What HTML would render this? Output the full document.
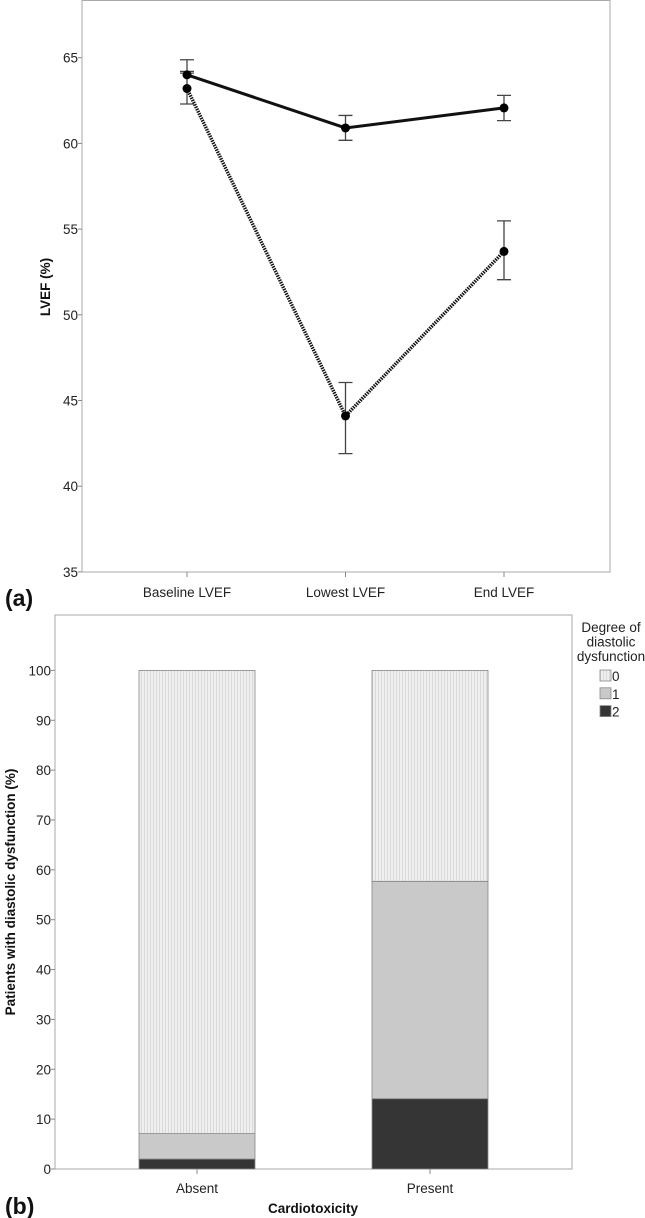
<!DOCTYPE html>
<html><head><meta charset="utf-8"><style>
body{margin:0;background:#fff;}
svg{display:block;font-family:"Liberation Sans",Arial,sans-serif;}
</style></head><body>
<svg id="fig" width="645" height="1218" viewBox="0 0 645 1218">
<defs>
<pattern id="vlines" width="3" height="10" patternUnits="userSpaceOnUse">
<rect width="3" height="10" fill="#efefef"/><rect width="1" height="10" fill="#dadada"/>
</pattern>
</defs>
<g id="chartA"></g>
<g id="chartB"></g>
</svg>
<script>
const lvefCategories = ["Baseline LVEF","Lowest LVEF","End LVEF"];
const solidMeans = [64.0, 60.9, 62.07];
const solidLow = [64.2, 60.18, 61.33];
const solidHigh = [64.88, 61.63, 62.8];
const dottedMeans = [63.2, 44.1, 53.7];
const dottedLow = [62.3, 41.9, 52.05];
const dottedHigh = [64.1, 46.05, 55.48];
const lvefTicks = [35,40,45,50,55,60,65];

const barCategories = ["Absent","Present"];
const grade2 = [2.0, 14.1];
const grade1 = [5.1, 43.6];
const grade0 = [92.9, 42.3];
const barTicks = [0,10,20,30,40,50,60,70,80,90,100];
const legendLabels = ["0","1","2"];

const NS="http://www.w3.org/2000/svg";
function mk(parent,tag,attrs,text){const e=document.createElementNS(NS,tag);for(const k in attrs)e.setAttribute(k,attrs[k]);if(text!==undefined)e.textContent=text;parent.appendChild(e);return e;}
const FS=13.5;

// Chart A
const A=document.getElementById('chartA');
const aL=82,aR=610,aT=0,aB=572;
const yA=v=>57.7+(65-v)*17.14;
const xA=i=>[187,345.5,504][i];
let f=mk(A,'rect',{x:aL,y:aT+0.5,width:aR-aL,height:aB-aT-0.5,fill:'none',stroke:'#aaa','stroke-width':1});


lvefTicks.forEach(t=>{
 const y=yA(t);
 let l=mk(A,'line',{x1:aL-4,x2:aL,y1:y,y2:y,stroke:'#888'});
 
 
 let tx=mk(A,'text',{x:aL-4,y:y+5,'text-anchor':'end','font-size':FS,fill:'#222'},t);
 
 
});
lvefCategories.forEach((c,i)=>{
 let l=mk(A,'line',{x1:xA(i),x2:xA(i),y1:aB,y2:aB+5,stroke:'#888'});
 
 
 let tx=mk(A,'text',{x:xA(i),y:aB+25,'text-anchor':'middle','font-size':FS,fill:'#222'},c);
 
 
});
let yt=mk(A,'text',{x:0,y:0,transform:'translate(50,287) rotate(-90)','text-anchor':'middle','font-size':FS,'font-weight':'bold',fill:'#111'},'LVEF (%)');


let la=mk(A,'text',{x:5,y:606,'font-size':23,'font-weight':'bold',fill:'#111'},'(a)');


function series(means,lo,hi,dash,name){
 const pts=means.map((m,i)=>xA(i)+','+yA(m)).join(' ');
 let pl=mk(A,'polyline',{points:pts,fill:'none',stroke:'#111','stroke-width':dash?3.5:3,'stroke-dasharray':dash?'1.5 1':'none'});
 
 
 means.forEach((m,i)=>{
  const x=xA(i);
  let e=mk(A,'path',{d:`M${x},${yA(lo[i])}V${yA(hi[i])}M${x-7},${yA(lo[i])}H${x+7}M${x-7},${yA(hi[i])}H${x+7}`,stroke:'#444','stroke-width':1.3,fill:'none'});
  
  
  let c=mk(A,'circle',{cx:x,cy:yA(m),r:4.5,fill:'#000'});
  
  
 });
}
series(dottedMeans,dottedLow,dottedHigh,true,'cardiotoxicity-present');
series(solidMeans,solidLow,solidHigh,false,'cardiotoxicity-absent');

// Chart B
const B=document.getElementById('chartB');
const bL=55,bR=572,bT=615,bB=1169;
const yB=v=>bB-(v)*4.986;
const xB=i=>[197,430][i];
const bw=116;
let fb=mk(B,'rect',{x:bL,y:bT,width:bR-bL,height:bB-bT,fill:'none',stroke:'#aaa','stroke-width':1});


barTicks.forEach(t=>{
 const y=yB(t);
 let l=mk(B,'line',{x1:bL-4,x2:bL,y1:y,y2:y,stroke:'#888'});
 
 
 let tx=mk(B,'text',{x:bL-4,y:y+5,'text-anchor':'end','font-size':FS,fill:'#222'},t);
 
 
});
const fills=['url(#vlines)','#c9c9c9','#353535'];
barCategories.forEach((c,i)=>{
 const x=xB(i);
 const segs=[grade2[i],grade1[i],grade0[i]];
 const fl=['#353535','#c9c9c9','url(#vlines)'];
 const nm=['grade-2','grade-1','grade-0'];
 let base=0;
 segs.forEach((v,k)=>{
  let r=mk(B,'rect',{x:x-bw/2,y:yB(base+v),width:bw,height:v*4.986,fill:fl[k],stroke:'#888','stroke-width':0.8});
  
  
  base+=v;
 });
 let l=mk(B,'line',{x1:x,x2:x,y1:bB,y2:bB+5,stroke:'#888'});
 
 
 let tx=mk(B,'text',{x:x,y:bB+24,'text-anchor':'middle','font-size':FS,fill:'#222'},c);
 
 
});
let xt=mk(B,'text',{x:313,y:1213,'text-anchor':'middle','font-size':FS,'font-weight':'bold',fill:'#111'},'Cardiotoxicity');


let ytb=mk(B,'text',{x:0,y:0,transform:'translate(15,892) rotate(-90)','text-anchor':'middle','font-size':FS,'font-weight':'bold',fill:'#111'},'Patients with diastolic dysfunction (%)');


let lb=mk(B,'text',{x:5,y:1214,'font-size':23,'font-weight':'bold',fill:'#111'},'(b)');


['Degree of','diastolic','dysfunction'].forEach((s,k)=>{
 let t=mk(B,'text',{x:611,y:632+k*14.5,'text-anchor':'middle','font-size':FS,fill:'#222'},s);
 
 
});
legendLabels.forEach((s,k)=>{
 const y=670+k*17.8;
 let r=mk(B,'rect',{x:600,y:y,width:11,height:11,fill:fills[k],stroke:'#888','stroke-width':0.8});
 
 
 let t=mk(B,'text',{x:612,y:y+11,'font-size':FS,fill:'#222'},s);
 
 
});
</script>
</body></html>
